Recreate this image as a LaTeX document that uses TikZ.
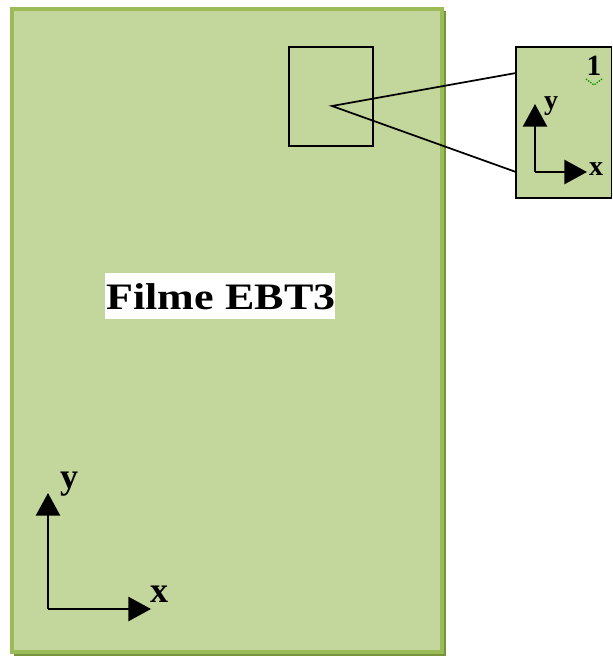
\documentclass[tikz,border=0pt]{standalone}
\usepackage{fontspec}
\setmainfont{Liberation Serif}
\newfontfamily\labfont[FakeStretch=1.18]{Liberation Serif}
\usetikzlibrary{arrows.meta}
\definecolor{filmfill}{HTML}{C3D69B}
\definecolor{filmedge}{HTML}{9BBB59}
\definecolor{filmshade}{HTML}{77933C}
\tikzset{
  axis/.style={line width=2pt, -{Triangle[length=17pt,width=18pt]}},
  biglab/.style={font=\bfseries\fontsize{27}{30}\selectfont, inner sep=0pt},
  smalllab/.style={font=\bfseries\fontsize{21}{24}\selectfont, inner sep=0pt},
  frame/.style={draw=black, line width=1.3pt},
  zoomline/.style={draw=black, line width=1.3pt}
}
\begin{document}
\begin{tikzpicture}[x=0.75pt,y=-0.75pt]
\useasboundingbox (0,0) rectangle (613,657);
% film
\fill[filmshade] (14,11) rectangle (446,656);
\draw[filmedge, line width=3pt, fill=filmfill] (12,9) rectangle (442,652);
% label
\node[fill=white, minimum width=172.5pt, minimum height=34pt, inner sep=0pt] (lab) at (220,296) {};
\node[font=\labfont\bfseries\fontsize{28}{30}\selectfont, inner sep=0pt] (labtext) at (221,297) {Filme EBT3};
% small square
\draw[frame] (289,47) rectangle (373,146);
\coordinate (apex) at (332,106);
% inset
\draw[frame, fill=filmfill] (516,47) rectangle (611.5,198);
\coordinate (inA) at (516,73);
\coordinate (inB) at (516,172);
\draw[zoomline] (inA) -- (apex) -- (inB);
% inset axes
\coordinate (ic) at (535,172);
\coordinate (iy) at (535,104);
\coordinate (ix) at (587,172);
\draw[axis] (ic) -- (iy);
\draw[axis] (ic) -- (ix);
\node[smalllab] (iylab) at (551,106) {y};
\node[smalllab] (ixlab) at (596,169) {x};
\node[font=\bfseries\fontsize{22}{24}\selectfont, inner sep=0pt] (one) at (594,66) {1};
\draw[green!60!black, densely dotted, line width=1pt] (586,79) -- (594,85) -- (602,79);
% main axes
\coordinate (c) at (48,609);
\coordinate (yt) at (48,493);
\coordinate (xt) at (151,609);
\draw[axis] (c) -- (yt);
\draw[axis] (c) -- (xt);
\node[biglab] (ylab) at (69,484) {y};
\node[biglab] (xlab) at (159,594) {x};
\end{tikzpicture}
\end{document}
